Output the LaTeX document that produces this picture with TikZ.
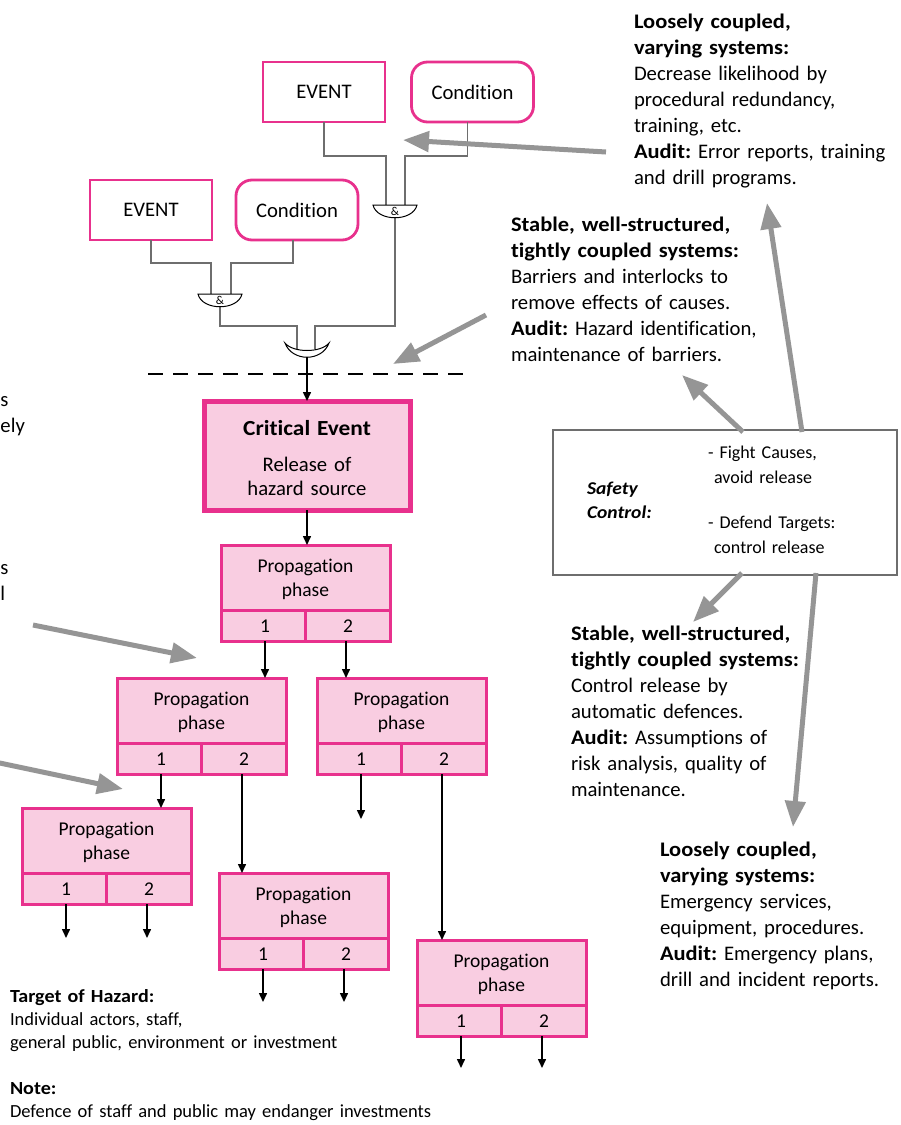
\documentclass[tikz,border=0pt]{standalone}
\usepackage{fontspec}
\setmainfont{Carlito}[Ligatures={NoCommon},BoldFeatures={FakeStretch=1.085},BoldItalicFeatures={FakeStretch=1.085}]
\usetikzlibrary{arrows.meta,calc}
\frenchspacing

\definecolor{hazpink}{HTML}{E8318D}
\definecolor{hazfill}{HTML}{F9CDE1}
\definecolor{hintgray}{HTML}{959595}
\definecolor{wiregray}{HTML}{6E6E6E}

\tikzset{
  every node/.style={inner sep=0pt,outer sep=0pt},
  body/.style={font=\fontsize{20.7pt}{26pt}\selectfont},
  block/.style={body,text width=270pt,align=left,anchor=base west},
  smallblock/.style={font=\fontsize{18.5pt}{23pt}\selectfont,text width=440pt,align=left,anchor=base west},
  sctext/.style={font=\fontsize{18pt}{25pt}\selectfont,text width=160pt,align=left,anchor=base west},
  eventbox/.style={draw=hazpink,line width=2.8pt,minimum width=122pt,minimum height=60pt,body},
  condbox/.style={eventbox,rounded corners=16pt},
  crit/.style={draw=hazpink,fill=hazfill,line width=5pt,minimum width=206pt,minimum height=109pt},
  prop/.style={draw=hazpink,fill=hazfill,line width=3pt,minimum width=169pt,minimum height=96pt,anchor=north west},
  pinkrule/.style={draw=hazpink,line width=3pt},
  proptext/.style={font=\fontsize{19.5pt}{24pt}\selectfont,align=center},
  wire/.style={draw=wiregray,line width=1.3pt},
  gate/.style={draw=black,line width=1pt,fill=white},
  gatetext/.style={font=\fontsize{12pt}{12pt}\selectfont},
  flow/.style={draw=black,line width=1.5pt,-{Triangle[length=9pt,width=8pt]}},
  hint/.style={draw=hintgray,line width=5pt,-{Triangle[length=26pt,width=20pt]}},
  cutline/.style={draw=black,line width=2.8pt,dash pattern=on 15pt off 10pt},
  safetybox/.style={draw=wiregray,line width=1.4pt,minimum width=344pt,minimum height=145pt},
}

% a propagation phase box with two numbered exits
\newcommand\propbox[3]{%
  \node[prop] (#1) at (#2,#3) {};
  \draw[pinkrule] ($(#1.north west)+(0,65)$) -- ($(#1.north east)+(0,65)$);
  \draw[pinkrule] ($(#1.north west)+(84.5,65)$) -- ($(#1.south west)+(84.5,0)$);
  \node[proptext] (#1-t) at ($(#1.north west)+(84.5,34)$) {Propagation\\phase};
  \node[proptext] (#1-n1) at ($(#1.north west)+(44,81)$) {1};
  \node[proptext] (#1-n2) at ($(#1.north west)+(127,81)$) {2};
  \coordinate (#1-o1) at ($(#1.south west)+(44,0)$);
  \coordinate (#1-o2) at ($(#1.south west)+(125,0)$);
}

\begin{document}
\begin{tikzpicture}[x=1pt,y=-1pt]
\useasboundingbox (0,0) rectangle (901,1125);

% ---------- causes ----------
\node[eventbox] (ev1) at (324,92) {EVENT};
\node[condbox] (cd1) at (472.5,92) {Condition};
\node[eventbox] (ev2) at (151,210) {EVENT};
\node[condbox] (cd2) at (297,210) {Condition};

\coordinate (busA) at (0,156);
\coordinate (busB) at (0,263);
\coordinate (busC) at (0,326);

\coordinate (andA-in1) at (386,205);
\coordinate (andA-in2) at (405,205);
\coordinate (andA-out) at (395,217.75);
\coordinate (andB-in1) at (211,294);
\coordinate (andB-in2) at (231,294);
\coordinate (andB-out) at (220,306.75);
\coordinate (orG-in1) at (297,349);
\coordinate (orG-in2) at (315,349);
\coordinate (orG-out) at (307,357.25);

\draw[wire] (ev1.south) |- (andA-in1 |- busA) -- (andA-in1);
\draw[wire] ($(cd1.south)+(-5,0)$) |- (andA-in2 |- busA) -- (andA-in2);
\draw[wire] (ev2.south) |- (andB-in1 |- busB) -- (andB-in1);
\draw[wire] ($(cd2.south)+(-4,0)$) |- (andB-in2 |- busB) -- (andB-in2);
\draw[wire] (andA-out) |- (orG-in2 |- busC) -- (orG-in2);
\draw[wire] (andB-out) |- (orG-in1 |- busC) -- (orG-in1);

% AND gates
\draw[gate] (373,205) -- (417,205) .. controls (413,222) and (377,222) .. (373,205) -- cycle;
\node[gatetext] (andA) at (395,211.5) {\&};
\draw[gate] (198,294) -- (242,294) .. controls (238,311) and (202,311) .. (198,294) -- cycle;
\node[gatetext] (andB) at (220,300.5) {\&};
% OR gate
\draw[gate] (285,343) .. controls (293,353) and (321,353) .. (329,343)
            .. controls (322,362) and (292,362) .. (285,343) -- cycle;

% boundary of the release
\coordinate (cutL) at (148,374);
\coordinate (cutR) at (466,374);
\draw[cutline] (cutL) -- (cutR);

% ---------- critical event ----------
\node[crit] (crit) at (307,455.5) {};
\node[font=\fontsize{20.7pt}{24pt}\selectfont,text width=206pt,align=center,anchor=base] (critlabel) at (307,435)
  {{\fontsize{21.5pt}{24pt}\selectfont\textbf{Critical Event}}\\[12pt]Release of\\hazard source};
\draw[flow] (orG-out) -- (crit.north);

% ---------- propagation tree ----------
\propbox{p1}{221}{545}
\propbox{p2}{117}{678}
\propbox{p3}{317}{678}
\propbox{p4}{22}{808}
\propbox{p5}{219}{873}
\propbox{p6}{417}{940}

\draw[flow] (crit.south) -- (crit.south |- p1.north);
\draw[flow] (p1-o1) -- (p1-o1 |- p2.north);
\draw[flow] (p1-o2) -- (p1-o2 |- p3.north);
\draw[flow] (p2-o1) -- (p2-o1 |- p4.north);
\draw[flow] (p2-o2) -- (p2-o2 |- p5.north);
\draw[flow] (p3-o2) -- (p3-o2 |- p6.north);

\coordinate (p3-e1) at ($(p3-o1)+(0,45)$);
\coordinate (p4-e1) at ($(p4-o1)+(0,34)$);
\coordinate (p4-e2) at ($(p4-o2)+(0,34)$);
\coordinate (p5-e1) at ($(p5-o1)+(0,33)$);
\coordinate (p5-e2) at ($(p5-o2)+(0,33)$);
\coordinate (p6-e1) at ($(p6-o1)+(0,32)$);
\coordinate (p6-e2) at ($(p6-o2)+(0,32)$);
\draw[flow] (p3-o1) -- (p3-e1);
\draw[flow] (p4-o1) -- (p4-e1);
\draw[flow] (p4-o2) -- (p4-e2);
\draw[flow] (p5-o1) -- (p5-e1);
\draw[flow] (p5-o2) -- (p5-e2);
\draw[flow] (p6-o1) -- (p6-e1);
\draw[flow] (p6-o2) -- (p6-e2);

% ---------- safety control ----------
\node[safetybox] (sc) at (725,502.5) {};
\node[sctext,font=\fontsize{18pt}{24pt}\selectfont\bfseries\itshape] (sclabel) at (587,494) {Safety\\Control:};
\node[sctext] (fight) at (708,458) {- Fight Causes,\\\hspace*{6pt}avoid release};
\node[sctext] (defend) at (708,528) {- Defend Targets:\\\hspace*{6pt}control release};

% ---------- strategies ----------
\node[block] (loose1) at (634,28) {\textbf{Loosely coupled,}\\\textbf{varying systems:}\\Decrease likelihood by\\procedural redundancy,\\training, etc.\\\textbf{Audit:} Error reports, training\\and drill programs.};
\node[block] (stable1) at (511,231) {\textbf{Stable, well-structured,}\\\textbf{tightly coupled systems:}\\Barriers and interlocks to\\remove effects of causes.\\\textbf{Audit:} Hazard identification,\\maintenance of barriers.};
\node[block] (stable2) at (571,640) {\textbf{Stable, well-structured,}\\\textbf{tightly coupled systems:}\\Control release by\\automatic defences.\\\textbf{Audit:} Assumptions of\\risk analysis, quality of\\maintenance.};
\node[block] (loose2) at (660,856) {\textbf{Loosely coupled,}\\\textbf{varying systems:}\\Emergency services,\\equipment, procedures.\\\textbf{Audit:} Emergency plans,\\drill and incident reports.};

% text running in from the left margin
\node[body,anchor=base west] (fragA1) at (0.5,406) {s};
\node[body,anchor=base west] (fragA2) at (0.5,432) {ely};
\node[body,anchor=base west] (fragB1) at (0.5,574) {s};
\node[body,anchor=base west] (fragB2) at (0.5,600) {l};

% ---------- targets ----------
\node[smallblock] (target) at (10,1002) {\textbf{Target of Hazard:}\\Individual actors, staff,\\general public, environment or investment};
\node[smallblock] (note) at (10,1094) {\textbf{Note:}\\Defence of staff and public may endanger investments};

% ---------- pointers ----------
\coordinate (hA-tail) at (606,152);  \coordinate (hA-tip) at (403,140);
\coordinate (hB-tail) at (486,315);  \coordinate (hB-tip) at (393,364);
\coordinate (hC-tail) at ($(sc.north west)+(190,2)$); \coordinate (hC-tip) at (682,375);
\coordinate (hD-tail) at ($(sc.north west)+(249,2)$); \coordinate (hD-tip) at (767,203);
\coordinate (hE-tail) at ($(sc.south west)+(189,-2)$); \coordinate (hE-tip) at (693,622);
\coordinate (hF-tail) at ($(sc.south west)+(263,-2)$); \coordinate (hF-tip) at (793,827);
\coordinate (hG-tail) at (33,625);   \coordinate (hG-tip) at (197,658);
\coordinate (hH-tail) at (-5,762);   \coordinate (hH-tip) at (123,789);
\draw[hint] (hA-tail) -- (hA-tip);
\draw[hint] (hB-tail) -- (hB-tip);
\draw[hint] (hC-tail) -- (hC-tip);
\draw[hint] (hD-tail) -- (hD-tip);
\draw[hint] (hE-tail) -- (hE-tip);
\draw[hint] (hF-tail) -- (hF-tip);
\draw[hint] (hG-tail) -- (hG-tip);
\draw[hint] (hH-tail) -- (hH-tip);
\end{tikzpicture}
\end{document}
